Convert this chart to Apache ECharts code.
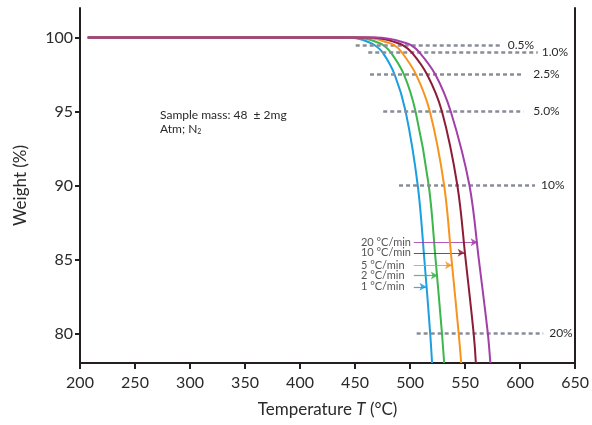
<!DOCTYPE html>
<html>
<head>
<meta charset="utf-8">
<script src="https://cdn.jsdelivr.net/npm/echarts@6/dist/echarts.min.js"></script>
<style>
  html, body { margin: 0; padding: 0; background: #fff; }
  #chart { width: 592px; height: 425px; }
</style>
</head>
<body>
<div id="chart"></div>
<script>
// TGA weight-loss curves at five heating rates
const rateNames = ['1 °C/min', '2 °C/min', '5 °C/min', '10 °C/min', '20 °C/min'];
const rateColors = ['#1c9fdf', '#3db64b', '#f7941e', '#8c1d36', '#a23fa9'];

// weight (%) levels shared by every curve
const weightLevels = [100, 100, 99.9, 99.7, 99.5, 99.0, 97.5, 95, 90, 85, 80, 78];
// temperature (°C) reached at each weight level
const tempRate1  = [207, 444, 454, 462, 467.5, 475, 486, 496, 507, 513, 518.3, 520];
const tempRate2  = [207, 450, 461, 469.5, 475.5, 482.5, 494.5, 505, 517, 523.2, 529, 531];
const tempRate5  = [207, 457, 469, 478, 485.5, 492.5, 505.5, 518, 531, 537.7, 544.2, 546.5];
const tempRate10 = [207, 463, 476, 486, 493, 501.5, 515.5, 529, 543, 550.5, 557.8, 559.8];
const tempRate20 = [207, 468, 482, 493, 500.5, 508.5, 523, 537, 554, 562.5, 570.7, 573];
const rateTemps = [tempRate1, tempRate2, tempRate5, tempRate10, tempRate20];

// arrow callouts pointing from each rate label to its curve
const calloutWeight = [83.15, 83.91, 84.61, 85.45, 86.17];
const calloutTipTemp = [514.9, 525.2, 538.2, 549.6, 561.4];
const calloutTailTemp = 503.4;
const calloutTextTemp = 455.4;

// reference lines for percentage of mass lost
const lossLabels = ['0.5%', '1.0%', '2.5%', '5.0%', '10%', '20%'];
const lossLevels = [99.5, 99.0, 97.5, 95, 90, 80];
const lossFrom = [450.6, 462, 463.6, 475.6, 490, 506];
const lossTo = [583.4, 616, 603, 603, 613.6, 621];
const lossGap = [6, 4, 10, 10, 6, 6];

// axis ticks
const xTicks = [200, 250, 300, 350, 400, 450, 500, 550, 600, 650];
const yTicks = [80, 85, 90, 95, 100];

const FONT = 'Lato';
const INK = '#231f20';
const TEXT = '#2a2a2a';

const curveSeries = rateNames.map((name, i) => ({
  name: name,
  type: 'line',
  showSymbol: false,
  symbol: 'none',
  smooth: 0.35,
  z: 3 + i,
  lineStyle: { color: rateColors[i], width: 2 },
  data: rateTemps[i].map((t, k) => [t, weightLevels[k]]),
  markLine: {
    silent: true,
    symbol: ['none', 'arrow'],
    symbolSize: [6, 7],
    label: { show: false },
    lineStyle: { color: rateColors[i], width: 1.2, type: 'solid', opacity: 0.85 },
    data: [[
      { coord: [calloutTailTemp, calloutWeight[i]] },
      { coord: [calloutTipTemp[i], calloutWeight[i]] }
    ]]
  }
}));

const calloutText = {
  name: 'rate labels',
  type: 'scatter',
  symbolSize: 0,
  silent: true,
  z: 10,
  data: rateNames.map((n, i) => ({ value: [calloutTextTemp, calloutWeight[i]], name: n })),
  label: {
    show: true,
    position: 'right',
    distance: 0,
    formatter: p => p.name,
    fontFamily: FONT,
    fontSize: 11,
    color: TEXT
  }
};

const lossLines = {
  name: 'mass loss',
  type: 'line',
  data: [],
  z: 2,
  markLine: {
    silent: true,
    symbol: ['none', 'none'],
    lineStyle: { color: '#898c99', width: 2.5, type: [4, 3], opacity: 1 },
    data: lossLabels.map((lab, i) => [
      { coord: [lossFrom[i], lossLevels[i]], name: lab },
      {
        coord: [lossTo[i], lossLevels[i]],
        label: {
          show: true, position: 'end', distance: lossGap[i], formatter: lab,
          fontFamily: FONT, fontSize: 12, color: TEXT
        }
      }
    ])
  }
};

const chart = echarts.init(document.getElementById('chart'), null, { renderer: 'canvas' });
chart.setOption({
  animation: false,
  backgroundColor: '#ffffff',
  textStyle: { fontFamily: FONT },
  grid: { left: 80, right: 15, top: 8, bottom: 62, containLabel: false },
  xAxis: {
    type: 'value',
    min: 200, max: 650, interval: 50,
    name: '{n|Temperature }{i|T}{n| (°C)}',
    nameLocation: 'middle',
    nameGap: 38,
    nameTextStyle: {
      rich: {
        n: { fontFamily: FONT, fontSize: 17, color: TEXT },
        i: { fontFamily: FONT, fontSize: 17, color: TEXT, fontStyle: 'italic' }
      }
    },
    axisLine: { show: true, onZero: false, lineStyle: { color: INK, width: 2 } },
    axisTick: { show: true, inside: false, length: 6, lineStyle: { color: INK, width: 2 } },
    axisLabel: { fontFamily: FONT, fontSize: 16, color: TEXT, margin: 12,
                 customValues: xTicks },
    splitLine: { show: false }
  },
  yAxis: [
    {
      type: 'value',
      min: 78, max: 102,
      name: 'Weight (%)',
      nameLocation: 'middle',
      nameGap: 51,
      nameTextStyle: { fontFamily: FONT, fontSize: 17, color: TEXT },
      axisLine: { show: true, onZero: false, lineStyle: { color: INK, width: 2 } },
      axisTick: { show: true, inside: false, length: 5, customValues: yTicks,
                  lineStyle: { color: INK, width: 2 } },
      axisLabel: { fontFamily: FONT, fontSize: 16, color: TEXT, margin: 7,
                   customValues: yTicks },
      splitLine: { show: false }
    },
    {
      type: 'value',
      position: 'right',
      min: 78, max: 102,
      axisLine: { show: true, onZero: false, lineStyle: { color: INK, width: 2 } },
      axisTick: { show: false },
      axisLabel: { show: false },
      splitLine: { show: false }
    }
  ],
  graphic: [
    {
      type: 'text',
      left: 160, top: 108,
      style: {
        text: 'Sample mass: 48  ± 2mg\nAtm; N{s|2}',
        fontFamily: FONT, fontSize: 12, lineHeight: 14, fill: TEXT,
        rich: { s: { fontSize: 7, padding: [6, 0, 0, 0], fontFamily: FONT, fill: TEXT } }
      }
    }
  ],
  series: [lossLines].concat(curveSeries, [calloutText])
});
</script>
</body>
</html>
